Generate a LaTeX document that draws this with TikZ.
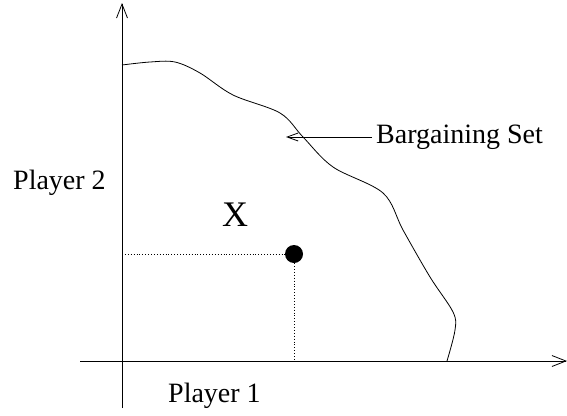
\documentclass[tikz,border=0pt]{standalone}
\usepackage{fontspec}
\setmainfont{Liberation Serif}
\usetikzlibrary{arrows.meta}
\begin{document}
\begin{tikzpicture}[x=1pt,y=-1pt,
  axis/.style={line width=0.8pt,-{Straight Barb[length=14pt,width=11pt,line width=0.8pt]}},
  lbl/.style={font=\fontsize{28}{30}\selectfont,inner sep=0pt},
  guide/.style={line width=0.9pt,dotted}]
\useasboundingbox (0,0) rectangle (567,415);
\coordinate (yb) at (122,408);
\coordinate (yt) at (122,3);
\coordinate (xl) at (80,361);
\coordinate (xr) at (567,361);
\draw[axis] (yb) -- (yt);
\draw[axis] (xl) -- (xr);
\draw[line width=0.8pt] plot[smooth,tension=0.55] coordinates {
 (122,65) (150,62) (175,62) (200,73) (233,95) (280,113) (303,137)
 (333,167) (383,193) (403,230) (430,277) (453,312) (455,330) (447,361)};
\node[lbl,anchor=west] (bs) at (376,137) {Bargaining Set};
\coordinate (bt) at (286,137);
\draw[line width=0.8pt,-{Straight Barb[length=11pt,width=8pt,line width=0.8pt]}] (bs.west) ++(-4,0) -- (bt);
\node[lbl,anchor=west] (p2) at (13,183) {Player 2};
\node[lbl,anchor=west] (p1) at (168,396) {Player 1};
\node[lbl,font=\fontsize{36}{38}\selectfont] (xx) at (235,215) {X};
\node[circle,fill=black,minimum size=18pt,inner sep=0pt] (dot) at (294,254) {};
\coordinate (hy) at (122,254);
\coordinate (vx) at (294,361);
\draw[guide] (hy) -- (dot);
\draw[guide] (dot) -- (vx);
\end{tikzpicture}
\end{document}
